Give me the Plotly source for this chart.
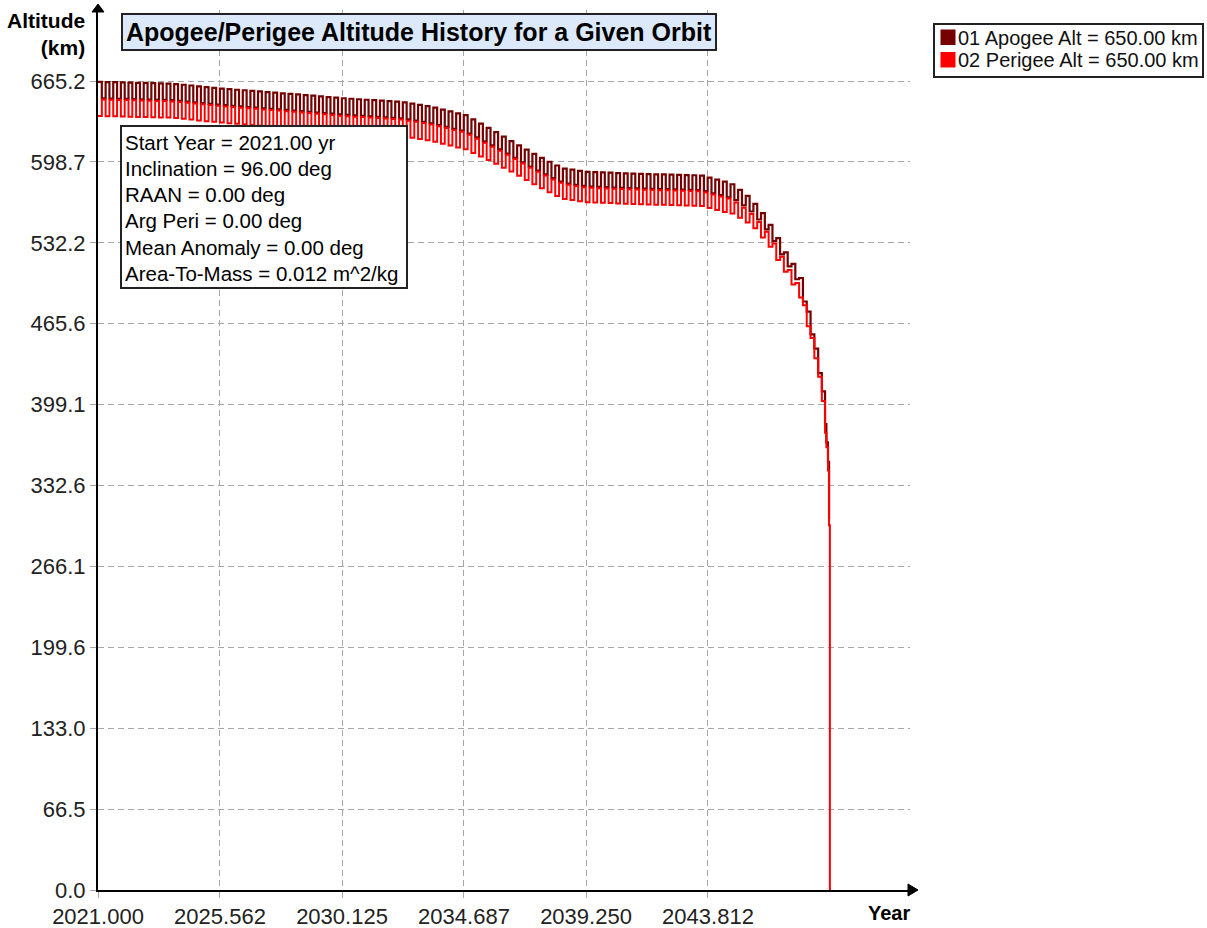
import plotly.graph_objects as go

# ---------------- data ----------------
# start of each eccentricity cycle (apogee high / perigee low)
cycle_years = [2021.000, 2021.285, 2021.570, 2021.855, 2022.140, 2022.425, 2022.710, 2022.995, 2023.280, 2023.565,
               2023.850, 2024.135, 2024.420, 2024.705, 2024.990, 2025.275, 2025.560, 2025.845, 2026.130, 2026.415,
               2026.700, 2026.985, 2027.270, 2027.555, 2027.840, 2028.125, 2028.410, 2028.695, 2028.980, 2029.265,
               2029.550, 2029.835, 2030.120, 2030.405, 2030.690, 2030.975, 2031.260, 2031.545, 2031.830, 2032.115,
               2032.400, 2032.685, 2032.970, 2033.255, 2033.540, 2033.825, 2034.110, 2034.395, 2034.680, 2034.965,
               2035.250, 2035.535, 2035.820, 2036.105, 2036.390, 2036.675, 2036.960, 2037.245, 2037.530, 2037.815,
               2038.100, 2038.385, 2038.670, 2038.955, 2039.240, 2039.525, 2039.810, 2040.095, 2040.380, 2040.665,
               2040.950, 2041.235, 2041.520, 2041.805, 2042.090, 2042.375, 2042.660, 2042.945, 2043.230, 2043.515,
               2043.800, 2044.085, 2044.370, 2044.655, 2044.940, 2045.225, 2045.510, 2045.795, 2046.080, 2046.365,
               2046.650, 2046.935, 2047.220, 2047.505, 2047.790]
# middle of each cycle (apogee low / perigee high)
mid_years = [2021.143, 2021.428, 2021.713, 2021.998, 2022.283, 2022.568, 2022.853, 2023.138, 2023.423, 2023.708,
             2023.993, 2024.278, 2024.563, 2024.848, 2025.133, 2025.418, 2025.703, 2025.988, 2026.273, 2026.558,
             2026.843, 2027.128, 2027.413, 2027.698, 2027.983, 2028.268, 2028.553, 2028.838, 2029.123, 2029.408,
             2029.693, 2029.978, 2030.263, 2030.548, 2030.833, 2031.118, 2031.403, 2031.688, 2031.973, 2032.258,
             2032.543, 2032.828, 2033.113, 2033.398, 2033.683, 2033.968, 2034.253, 2034.538, 2034.823, 2035.108,
             2035.393, 2035.678, 2035.963, 2036.248, 2036.533, 2036.818, 2037.103, 2037.388, 2037.673, 2037.958,
             2038.243, 2038.528, 2038.813, 2039.098, 2039.383, 2039.668, 2039.953, 2040.238, 2040.523, 2040.808,
             2041.093, 2041.378, 2041.663, 2041.948, 2042.233, 2042.518, 2042.803, 2043.088, 2043.373, 2043.658,
             2043.943, 2044.228, 2044.513, 2044.798, 2045.083, 2045.368, 2045.653, 2045.938, 2046.223, 2046.508,
             2046.793, 2047.078, 2047.363, 2047.648, 2047.933]

apogee_peak = [664.5, 664.3, 664.2, 664.0, 663.9, 663.7, 663.6, 663.4, 663.2, 663.1,
               662.7, 662.1, 661.5, 660.8, 660.2, 659.6, 659.0, 658.5, 658.0, 657.6,
               657.1, 656.6, 656.1, 655.6, 655.1, 654.6, 654.2, 653.6, 653.1, 652.6,
               652.0, 651.5, 651.0, 650.6, 650.2, 649.8, 649.4, 649.0, 648.6, 648.3,
               647.6, 646.6, 645.6, 644.5, 643.3, 641.7, 640.2, 638.6, 637.1, 633.7,
               630.2, 626.6, 623.1, 619.5, 615.7, 612.2, 608.7, 605.2, 602.0, 598.8,
               595.7, 593.2, 592.3, 591.3, 590.5, 590.2, 590.0, 589.8, 589.5, 589.3,
               589.0, 588.9, 588.7, 588.5, 588.4, 588.2, 588.0, 587.8, 587.7, 587.4,
               585.8, 584.1, 582.4, 580.3, 575.7, 570.8, 564.1, 556.5, 546.9, 536.0,
               524.3, 514.8, 503.2, 475.6, 445.2]
apogee_trough = [650.9, 650.8, 650.6, 650.5, 650.3, 650.1, 650.0, 649.8, 649.7, 649.4,
                 648.9, 648.3, 647.7, 647.0, 646.4, 645.8, 645.3, 644.8, 644.3, 643.8,
                 643.3, 642.8, 642.4, 641.9, 641.4, 640.9, 640.4, 639.9, 639.3, 638.8,
                 638.3, 637.7, 637.3, 636.9, 636.5, 636.1, 635.7, 635.3, 635.0, 634.5,
                 633.6, 632.6, 631.6, 630.4, 629.0, 627.5, 625.9, 624.4, 622.0, 618.8,
                 615.5, 612.2, 608.9, 605.5, 602.0, 598.4, 594.9, 591.6, 588.4, 585.3,
                 582.5, 580.8, 579.8, 578.9, 578.4, 578.1, 577.9, 577.6, 577.4, 577.2,
                 577.0, 576.8, 576.6, 576.4, 576.3, 576.1, 575.9, 575.8, 575.5, 574.6,
                 572.9, 571.3, 569.6, 567.3, 563.0, 557.9, 551.3, 543.2, 533.5, 522.6,
                 512.8, 502.2, 483.9, 456.9, 425.0]
perigee_trough = [636.5, 636.3, 636.2, 636.0, 635.9, 635.7, 635.6, 635.4, 635.2, 635.1,
                  634.7, 634.1, 633.5, 632.8, 632.2, 631.6, 631.0, 630.5, 630.0, 629.6,
                  629.1, 628.6, 628.1, 627.6, 627.1, 626.6, 626.2, 625.6, 625.1, 624.6,
                  624.0, 623.5, 623.0, 622.6, 622.2, 621.8, 621.4, 621.0, 620.6, 620.3,
                  619.6, 618.6, 617.6, 616.5, 615.3, 613.7, 612.2, 610.6, 609.1, 606.1,
                  603.2, 600.2, 597.1, 593.9, 590.7, 587.2, 583.7, 580.2, 577.0, 573.8,
                  570.7, 568.2, 567.3, 566.3, 565.5, 565.2, 565.0, 564.8, 564.5, 564.3,
                  564.0, 563.9, 563.7, 563.5, 563.4, 563.2, 563.0, 562.8, 562.7, 562.4,
                  560.8, 559.1, 557.4, 556.3, 552.7, 548.8, 544.1, 536.5, 528.9, 518.0,
                  508.3, 497.8, 487.2, 463.6, 437.2]
perigee_peak = [649.9, 649.8, 649.6, 649.5, 649.3, 649.1, 649.0, 648.8, 648.7, 648.4,
                647.9, 647.3, 646.7, 646.0, 645.4, 644.8, 644.3, 643.8, 643.3, 642.8,
                642.3, 641.8, 641.4, 640.9, 640.4, 639.9, 639.4, 638.9, 638.3, 637.8,
                637.3, 636.7, 636.3, 635.9, 635.5, 635.1, 634.7, 634.3, 634.0, 633.5,
                632.6, 631.6, 630.6, 629.4, 628.0, 626.5, 624.9, 623.4, 621.0, 617.8,
                614.5, 611.2, 607.9, 604.5, 601.0, 597.4, 593.9, 590.6, 587.4, 584.3,
                581.5, 579.8, 578.8, 577.9, 577.4, 577.1, 576.9, 576.6, 576.4, 576.2,
                576.0, 575.8, 575.6, 575.4, 575.3, 575.1, 574.9, 574.8, 574.5, 573.6,
                571.9, 570.3, 568.6, 565.3, 561.0, 555.9, 549.3, 541.2, 531.5, 520.6,
                509.8, 499.2, 480.9, 453.9, 422.0]

# final decay (re-entry)
apogee_tail_years = [2048.07, 2048.19, 2048.24, 2048.30, 2048.34]
apogee_tail = [410.0, 383.0, 368.0, 352.0, 305.0]
perigee_tail_years = [2048.07, 2048.19, 2048.24, 2048.30, 2048.34, 2048.37]
perigee_tail = [402.0, 376.0, 364.0, 345.0, 300.0, 0.0]

x_tick_vals = [2021.000, 2025.562, 2030.125, 2034.687, 2039.250, 2043.812]
x_tick_text = ["2021.000", "2025.562", "2030.125", "2034.687", "2039.250", "2043.812"]
y_tick_vals = [0.0, 66.52, 133.04, 199.56, 266.08, 332.6, 399.12, 465.64, 532.16, 598.68, 665.2]
y_tick_text = ["0.0", "66.5", "133.0", "199.6", "266.1", "332.6", "399.1", "465.6", "532.2", "598.7", "665.2"]

series_names = ["01 Apogee Alt = 650.00 km", "02 Perigee Alt = 650.00 km"]
series_colors = ["#750000", "#ff0000"]

info_lines = ["Start Year = 2021.00 yr", "Inclination = 96.00 deg", "RAAN = 0.00 deg",
              "Arg Peri = 0.00 deg", "Mean Anomaly = 0.00 deg", "Area-To-Mass = 0.012 m^2/kg"]

assert len(cycle_years) == len(mid_years) == len(apogee_peak) == len(apogee_trough) \
    == len(perigee_peak) == len(perigee_trough)

# ---------------- build series ----------------
apo_x, apo_y, per_x, per_y = [], [], [], []
for t0, t1, ah, al, ph, pl in zip(cycle_years, mid_years, apogee_peak, apogee_trough,
                                  perigee_peak, perigee_trough):
    apo_x += [t0, t1]
    apo_y += [ah, al]
    per_x += [t0, t1]
    per_y += [pl, ph]
apo_x += apogee_tail_years
apo_y += apogee_tail
per_x += perigee_tail_years
per_y += perigee_tail

FONT = "Liberation Sans, Arial, sans-serif"

fig = go.Figure()
fig.add_trace(go.Scatter(x=apo_x, y=apo_y, mode="lines", name=series_names[0], showlegend=False,
                         hoverinfo="skip",
                         line=dict(color=series_colors[0], width=2.2, shape="hv")))
fig.add_trace(go.Scatter(x=per_x, y=per_y, mode="lines", name=series_names[1], showlegend=False,
                         hoverinfo="skip",
                         line=dict(color=series_colors[1], width=2, shape="hv")))

# plot area geometry (pixels)
L, R, T, B = 98, 910, 10, 890
W, H = 1207, 928
xr = [2021.0, 2021.0 + (R - L) * 4.5625 / 122.0]
yr = [0.0, (B - T) * 66.52 / 80.9]


def px(x):
    return (x - L) / (R - L)


def py(y):
    return (B - y) / (B - T)


grid = dict(showgrid=True, gridcolor="#a6a6a6", gridwidth=1, griddash="6px,4px",
            showline=True, linecolor="black", linewidth=2, zeroline=False, automargin=False,
            ticks="outside", ticklen=6, tickcolor="#a6a6a6",
            tickfont=dict(family=FONT, size=22, color="#222222"))

fig.update_layout(
    width=W, height=H,
    margin=dict(l=L, r=W - R, t=T, b=H - B, autoexpand=False),
    paper_bgcolor="white", plot_bgcolor="white",
    xaxis=dict(range=xr, tickvals=x_tick_vals, ticktext=x_tick_text, ticklabelstandoff=0, **grid),
    yaxis=dict(range=yr, tickvals=y_tick_vals, ticktext=y_tick_text, **grid),
    showlegend=False,
)

shapes = [
    # axis arrow heads
    dict(type="path", xref="paper", yref="paper", xsizemode="pixel", ysizemode="pixel",
         xanchor=1, yanchor=0, path="M -2,-6 L 8,0 L -2,6 Z",
         fillcolor="black", line=dict(color="black", width=1), layer="above"),
    dict(type="path", xref="paper", yref="paper", xsizemode="pixel", ysizemode="pixel",
         xanchor=0, yanchor=1, path="M -6,-2 L 0,6 L 6,-2 Z",
         fillcolor="black", line=dict(color="black", width=1), layer="above"),
    # info box
    dict(type="rect", xref="paper", yref="paper", x0=px(121), x1=px(407), y0=py(288), y1=py(126),
         fillcolor="white", line=dict(color="#222222", width=2), layer="above"),
    # legend box
    dict(type="rect", xref="paper", yref="paper", x0=px(934), x1=px(1203), y0=py(77), y1=py(24),
         fillcolor="white", line=dict(color="#222222", width=2), layer="above"),
]
legend_rows = [(29.5, 45.0, 38.0), (52.0, 67.5, 60.5)]
for col, (top, bot, _) in zip(series_colors, legend_rows):
    shapes.append(dict(type="rect", xref="paper", yref="paper", x0=px(940.5), x1=px(955.5),
                       y0=py(bot), y1=py(top), fillcolor=col, line=dict(width=0), layer="above"))
fig.update_layout(shapes=shapes)

ann = [
    dict(text="<b>Apogee/Perigee Altitude History for a Given Orbit</b>", xref="paper", yref="paper",
         x=px(419), y=py(32.5), xanchor="center", yanchor="middle", showarrow=False,
         font=dict(family=FONT, size=25, color="black"), bgcolor="#dbe9fb",
         bordercolor="#222222", borderwidth=2, borderpad=3),
    dict(text="<b>Altitude</b><br><b>(km)</b>", xref="paper", yref="paper", x=px(87), y=py(34.5),
         xanchor="right", yanchor="middle", align="right", showarrow=False,
         font=dict(family=FONT, size=21, color="black")),
    dict(text="<b>Year</b>", xref="paper", yref="paper", x=px(889), y=py(913),
         xanchor="center", yanchor="middle", showarrow=False,
         font=dict(family=FONT, size=20, color="black")),
]
line_y = [142, 168.3, 194.6, 220.9, 247.2, 273.5]
for txt, yy in zip(info_lines, line_y):
    ann.append(dict(text=txt, xref="paper", yref="paper", x=px(123), y=py(yy),
                    xanchor="left", yanchor="middle", showarrow=False,
                    font=dict(family=FONT, size=20.5, color="black")))
for name, (_, _, cy) in zip(series_names, legend_rows):
    ann.append(dict(text=name, xref="paper", yref="paper", x=px(956), y=py(cy),
                    xanchor="left", yanchor="middle", showarrow=False,
                    font=dict(family=FONT, size=20, color="#111111")))
fig.update_layout(annotations=ann)

post = ("document.documentElement.style.margin='0';document.body.style.margin='0';"
        "document.documentElement.style.overflow='hidden';document.body.style.overflow='hidden';")
fig.write_html("out.html", config={"displayModeBar": False}, post_script=post)
